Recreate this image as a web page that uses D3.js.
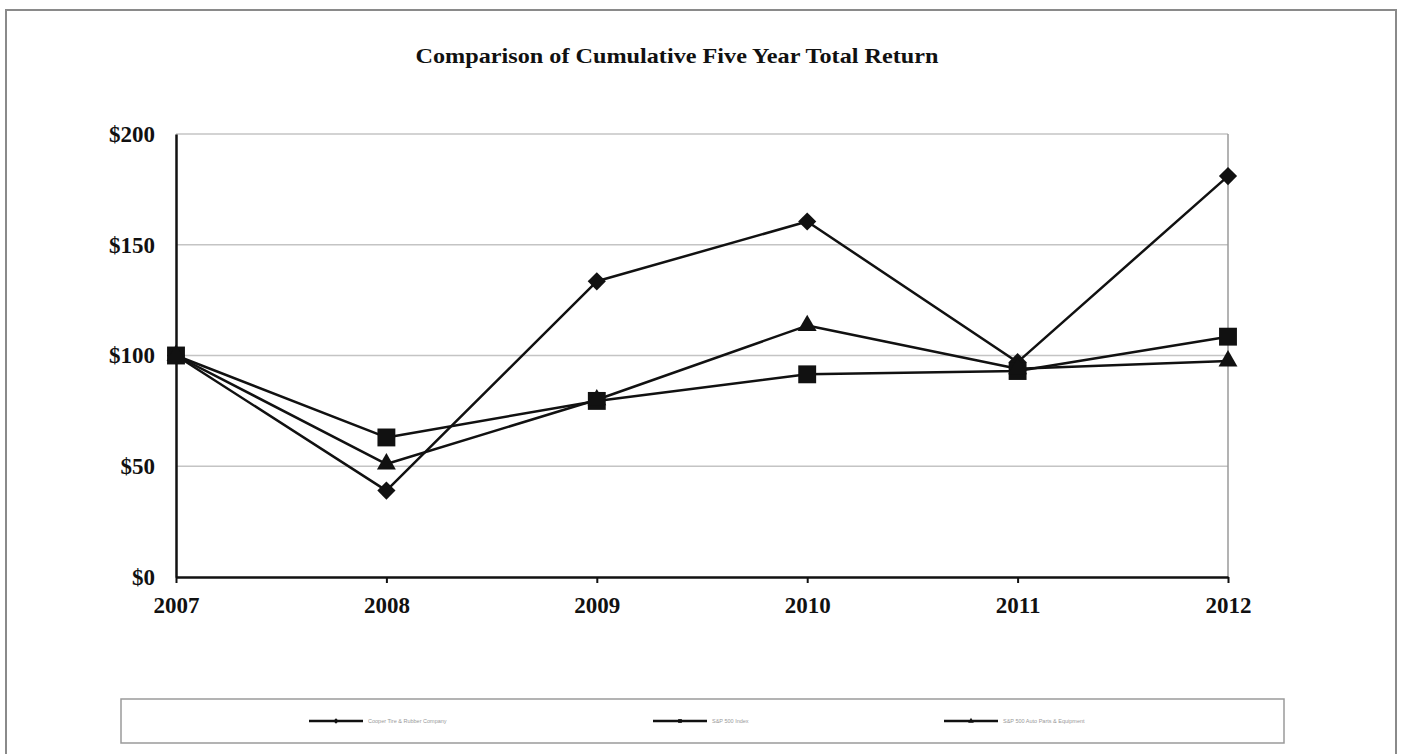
<!DOCTYPE html>
<html>
<head>
<meta charset="utf-8">
<script src="https://cdn.jsdelivr.net/npm/d3@7"></script>
<style>
  body { margin: 0; background: #fff; }
  svg { display: block; }
</style>
</head>
<body>
<svg id="chart"></svg>
<script>
// chart data
var years = [2007, 2008, 2009, 2010, 2011, 2012];
var seriesNames = ["Cooper Tire & Rubber Company", "S&P 500 Index", "S&P 500 Auto Parts & Equipment"];
var cooperTire = [100, 39, 133.5, 160.5, 97, 181];
var sp500 = [100, 63, 79.5, 91.5, 93, 108.5];
var autoParts = [100, 51, 80, 113.5, 94, 97.5];
var yTicks = [0, 50, 100, 150, 200];
var titleText = "Comparison of Cumulative Five Year Total Return";

var svgWidth = 1401, svgHeight = 754;
var margin = { top: 134, right: 173, bottom: 177, left: 176 };
var width = svgWidth - margin.left - margin.right;
var height = svgHeight - margin.top - margin.bottom;

var svg = d3.select("#chart")
    .attr("width", svgWidth)
    .attr("height", svgHeight);

// outer frame (bottom runs off the page)
svg.append("path")
    .attr("d", "M6,760 V10 H1396 V760")
    .attr("fill", "none")
    .attr("stroke", "#8a8a8a")
    .attr("stroke-width", 2);

svg.append("text")
    .attr("x", 677)
    .attr("y", 63)
    .attr("text-anchor", "middle")
    .attr("font-family", "'Liberation Serif', 'DejaVu Serif', serif")
    .attr("font-weight", "bold")
    .attr("font-size", 22)
    .attr("textLength", 523)
    .attr("lengthAdjust", "spacingAndGlyphs")
    .attr("fill", "#111")
    .text(titleText);

var x = d3.scalePoint().domain(years).range([0, width]);
var y = d3.scaleLinear().domain([0, 200]).range([height, 0]);

var g = svg.append("g")
    .attr("transform", "translate(" + margin.left + "," + margin.top + ")");

// gridlines
g.append("g")
    .selectAll("line")
    .data(yTicks.filter(function(d) { return d > 0; }))
    .enter().append("line")
    .attr("x1", 0).attr("x2", width)
    .attr("y1", function(d) { return y(d); })
    .attr("y2", function(d) { return y(d); })
    .attr("stroke", "#c4c4c4")
    .attr("stroke-width", 1.5);

// right border of plot
g.append("line")
    .attr("x1", width).attr("x2", width)
    .attr("y1", 0).attr("y2", height)
    .attr("stroke", "#9a9a9a")
    .attr("stroke-width", 1.5);

var fontTick = "'Liberation Serif', 'DejaVu Serif', serif";

var yAxis = g.append("g")
    .call(d3.axisLeft(y).tickValues(yTicks).tickSize(0).tickPadding(21)
      .tickFormat(function(d) { return "$" + d; }));
yAxis.select(".domain").attr("stroke", "#111").attr("stroke-width", 2.5);
yAxis.selectAll("text")
    .attr("font-family", fontTick)
    .attr("font-weight", "bold")
    .attr("font-size", 23)
    .attr("fill", "#111");

var xAxis = g.append("g")
    .attr("transform", "translate(0," + height + ")")
    .call(d3.axisBottom(x).tickSize(6).tickSizeOuter(0).tickPadding(14));
xAxis.select(".domain").attr("stroke", "#111").attr("stroke-width", 2.5);
xAxis.selectAll(".tick line").attr("stroke", "#111").attr("stroke-width", 2);
xAxis.selectAll("text")
    .attr("font-family", fontTick)
    .attr("font-weight", "bold")
    .attr("font-size", 23)
    .attr("fill", "#111");

var allSeries = [
  { name: seriesNames[0], values: cooperTire, symbol: d3.symbolSquare, size: 165, rotate: 45 },
  { name: seriesNames[1], values: sp500, symbol: d3.symbolSquare, size: 320, rotate: 0 },
  { name: seriesNames[2], values: autoParts, symbol: d3.symbolTriangle, size: 155, rotate: 0 }
];

var line = d3.line()
    .x(function(d, i) { return x(years[i]); })
    .y(function(d) { return y(d); });

allSeries.forEach(function(s) {
  g.append("path")
      .datum(s.values)
      .attr("fill", "none")
      .attr("stroke", "#111")
      .attr("stroke-width", 2.5)
      .attr("stroke-linejoin", "round")
      .attr("d", line);
});

allSeries.forEach(function(s) {
  g.append("g")
      .selectAll("path")
      .data(s.values)
      .enter().append("path")
      .attr("transform", function(d, i) {
        return "translate(" + x(years[i]) + "," + y(d) + ") rotate(" + s.rotate + ")";
      })
      .attr("d", d3.symbol().type(s.symbol).size(s.size))
      .attr("fill", "#111");
});

// legend
var legend = svg.append("g");
legend.append("rect")
    .attr("x", 121).attr("y", 699)
    .attr("width", 1163).attr("height", 44)
    .attr("fill", "#fff")
    .attr("stroke", "#9a9a9a")
    .attr("stroke-width", 1.5);

var legendX = [309, 653, 944];
allSeries.forEach(function(s, i) {
  var lg = legend.append("g").attr("transform", "translate(" + legendX[i] + ",721)");
  lg.append("line")
      .attr("x1", 0).attr("x2", 54)
      .attr("stroke", "#111")
      .attr("stroke-width", 2.5);
  lg.append("path")
      .attr("transform", "translate(27,0) rotate(" + s.rotate + ")")
      .attr("d", d3.symbol().type(s.symbol).size(14))
      .attr("fill", "#111");
  lg.append("text")
      .attr("x", 59)
      .attr("y", 2)
      .attr("font-family", "Arial, 'Liberation Sans', sans-serif")
      .attr("font-size", 5.5)
      .attr("fill", "#999")
      .text(s.name);
});
</script>
</body>
</html>
